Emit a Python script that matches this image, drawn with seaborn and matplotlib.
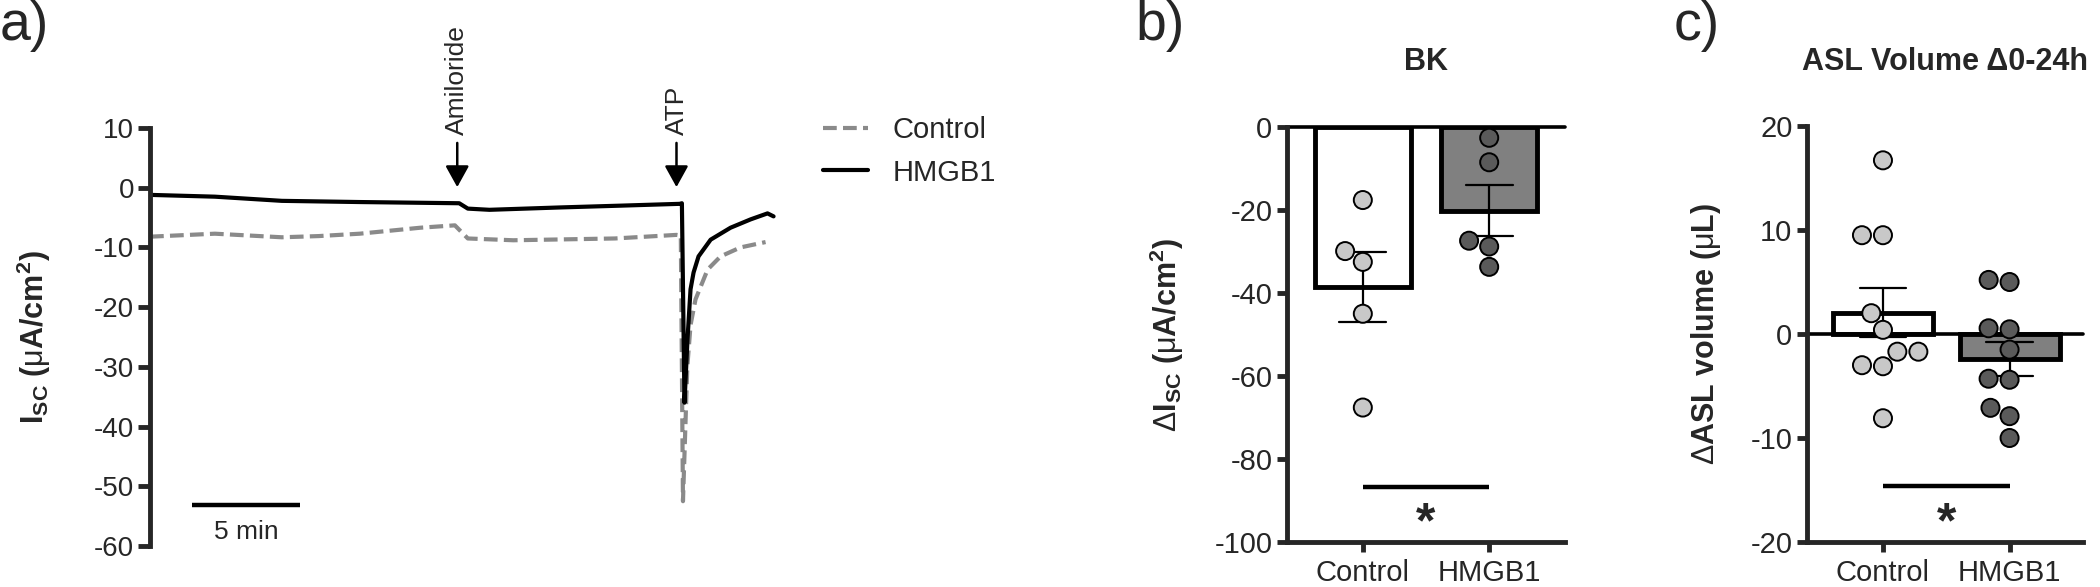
import numpy as np
import pandas as pd
import matplotlib
matplotlib.use('Agg')
import matplotlib.pyplot as plt
import seaborn as sns

# a) Isc trace, time in minutes
t_control = [0, 3.0, 6.1, 7.8, 9.7, 12.5, 14.1, 14.7, 16.8, 21.5, 24.35, 24.55,
             24.65, 24.85, 25.0, 25.23, 25.79, 26.39, 27.31, 28.47]
isc_control = [-8.2, -7.7, -8.3, -8.1, -7.7, -6.7, -6.3, -8.5, -8.8, -8.5, -7.9, -8.0,
               -52.5, -30.0, -23.0, -18.7, -13.7, -11.5, -10.0, -9.1]
t_hmgb1 = [0, 3.0, 6.1, 9.7, 14.3, 14.7, 15.7, 19.0, 21.8, 24.5, 24.6, 24.72,
           24.86, 25.0, 25.14, 25.37, 25.93, 26.85, 27.78, 28.56, 28.84]
isc_hmgb1 = [-1.2, -1.5, -2.2, -2.4, -2.6, -3.5, -3.7, -3.3, -3.0, -2.7, -2.6, -36.0,
             -25.3, -17.0, -14.2, -11.5, -8.7, -6.7, -5.3, -4.3, -4.8]
amiloride_t = 14.21
atp_t = 24.35
scale_start = 1.94
scale_len = 5

# b) BK
bk_control = [-17.6, -29.9, -32.5, -45.0, -67.6]
bk_hmgb1 = [-2.6, -8.5, -27.4, -28.8, -33.7]

# c) ASL volume change 0-24h
asl_control = [16.7, 9.5, 9.5, 2.0, 0.4, -1.7, -1.7, -3.0, -3.1, -8.1]
asl_hmgb1 = [5.0, 5.2, 0.45, 0.55, -1.5, -4.3, -4.4, -7.1, -7.9, -10.0]

groups = ['Control', 'HMGB1']

sns.set_theme(style='ticks')
plt.rcParams['font.family'] = ['Liberation Sans', 'DejaVu Sans']
plt.rcParams['mathtext.fontset'] = 'custom'
plt.rcParams['mathtext.rm'] = 'Liberation Sans'
plt.rcParams['mathtext.bf'] = 'Liberation Sans:bold'
plt.rcParams['mathtext.it'] = 'Liberation Sans:italic'
plt.rcParams['axes.linewidth'] = 3.5
plt.rcParams['axes.unicode_minus'] = False

W, H = 2100, 587
fig = plt.figure(figsize=(21, 5.87), dpi=100)


def box(left, top, right, bottom):
    return [left / W, 1 - bottom / H, (right - left) / W, (bottom - top) / H]


ax_a = fig.add_axes(box(150, 128, 790, 546))
ax_b = fig.add_axes(box(1287, 127, 1565, 542))
ax_c = fig.add_axes(box(1807, 126, 2083, 542))

gray = '#8a8a8a'

# ---- panel a
sns.lineplot(x=t_control, y=isc_control, ax=ax_a, color=gray, linewidth=3,
             linestyle=(0, (3.3, 1.5)), label='Control', estimator=None)
sns.lineplot(x=t_hmgb1, y=isc_hmgb1, ax=ax_a, color='black', linewidth=3,
             label='HMGB1', estimator=None)
ax_a.set_xlim(0, 29.6)
ax_a.set_ylim(-60, 10)
ax_a.set_yticks(range(-60, 11, 10))
ax_a.set_xticks([])
for s in ['top', 'right', 'bottom']:
    ax_a.spines[s].set_visible(False)
ax_a.tick_params(axis='y', length=8.6, width=3.5, labelsize=20, pad=3)
ax_a.set_ylabel(r'$\mathbf{I_{SC}}$ $\mathbf{(}$μ$\mathbf{A/cm^2)}$', fontsize=22)
ax_a.yaxis.set_label_coords(-0.152, 0.5)

for t, name in [(amiloride_t, 'Amiloride'), (atp_t, 'ATP')]:
    ax_a.annotate('', xy=(t, 0.1), xytext=(t, 7.5),
                  arrowprops=dict(arrowstyle='-|>,head_width=0.36,head_length=0.65',
                                  color='black', lw=1.8, shrinkA=0, shrinkB=0,
                                  mutation_scale=20),
                  annotation_clip=False)
    ax_a.text(t, 8.8, name, rotation=90, ha='center', va='bottom', fontsize=19,
              clip_on=False)

ax_a.plot([scale_start, scale_start + scale_len], [-53.2, -53.2], color='black',
          lw=3.2, solid_capstyle='butt')
ax_a.text(scale_start + scale_len / 2, -57.6, '5 min', ha='center', va='center',
          fontsize=19)

handles, labels = ax_a.get_legend_handles_labels()
ax_a.legend(handles, labels, loc='upper left', bbox_to_anchor=(823 / W, 1 - 116 / H),
            bbox_transform=fig.transFigure, frameon=False, fontsize=21,
            handlelength=1.55, handletextpad=0.85, labelspacing=0.5,
            borderpad=0, borderaxespad=0)


# ---- panels b and c
def bar_panel(ax, control, hmgb1, width):
    df = pd.DataFrame({'group': ['Control'] * len(control) + ['HMGB1'] * len(hmgb1),
                       'value': control + hmgb1})
    sns.barplot(data=df, x='group', y='value', hue='group', order=groups,
                palette={'Control': 'white', 'HMGB1': '#808080'},
                errorbar='se', capsize=0.37,
                err_kws={'color': 'black', 'linewidth': 1.6},
                edgecolor='black', linewidth=3.5, width=width, legend=False, ax=ax)
    sns.swarmplot(data=df, x='group', y='value', hue='group', order=groups,
                  palette={'Control': '#c8c8c8', 'HMGB1': '#5a5a5a'},
                  size=13, edgecolor='black', linewidth=1.4, legend=False, ax=ax)
    ax.axhline(0, color='black', lw=2.6, clip_on=False, zorder=1.5)
    ax.set_xlim(-0.6, 1.6)
    ax.set_xlabel('')
    for s in ['top', 'right']:
        ax.spines[s].set_visible(False)
    ax.tick_params(axis='both', length=7.5, width=3.5, labelsize=21, pad=3)
    ax.tick_params(axis='x', pad=5)


bar_panel(ax_b, bk_control, bk_hmgb1, 0.76)
ax_b.set_ylim(-100, 0)
ax_b.set_yticks(range(-100, 1, 20))
ax_b.set_ylabel(r'Δ$\mathbf{I_{SC}}$ $\mathbf{(}$μ$\mathbf{A/cm^2)}$', fontsize=22)
ax_b.yaxis.set_label_coords(-0.362, 0.5)
ax_b.plot([0, 1], [-86.7, -86.7], color='black', lw=3.2, solid_capstyle='butt')
ax_b.text(0.5, -95.8, '*', ha='center', va='center', fontsize=36, fontweight='bold')
ax_b.text(0.5, 1 + 65 / 415, 'BK', transform=ax_b.transAxes, ha='center',
          va='center', fontsize=22, fontweight='bold')

bar_panel(ax_c, asl_control, asl_hmgb1, 0.79)
ax_c.set_xlim(-0.6, 1.58)
ax_c.set_ylim(-20, 20)
ax_c.set_yticks(range(-20, 21, 10))
ax_c.set_ylabel(r'Δ$\mathbf{ASL\ volume\ (}$μ$\mathbf{L)}$', fontsize=22)
ax_c.yaxis.set_label_coords(-0.304, 0.5)
ax_c.plot([0, 1], [-14.6, -14.6], color='black', lw=3.2, solid_capstyle='butt')
ax_c.text(0.5, -18.3, '*', ha='center', va='center', fontsize=36, fontweight='bold')
ax_c.text(0.5, 1 + 64 / 416, 'ASL Volume Δ0-24h', transform=ax_c.transAxes,
          ha='center', va='center', fontsize=22, fontweight='bold')

# panel letters
fig.text(0.0, 1.0, 'a)', ha='left', va='top', fontsize=40)
fig.text(1135 / W, 1.0, 'b)', ha='left', va='top', fontsize=40)
fig.text(1674 / W, 1.0, 'c)', ha='left', va='top', fontsize=40)

fig.savefig('out.png', dpi=100)
